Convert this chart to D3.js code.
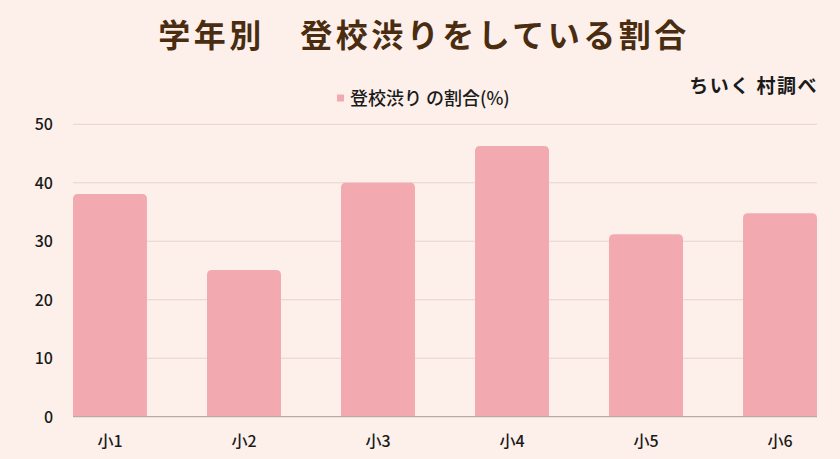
<!DOCTYPE html>
<html><head><meta charset="utf-8">
<script src="https://cdn.jsdelivr.net/npm/d3@7"></script>
<style>
html,body{margin:0;padding:0;background:#fdf0ea;}
svg{display:block;}
text{font-family:"Noto Sans CJK JP","Noto Sans",sans-serif;}
</style></head>
<body>
<svg id="chart" width="840" height="459"></svg>
<script>
const categories = ["小1","小2","小3","小4","小5","小6"];
const values = [38.1, 25.1, 40, 46.3, 31.2, 34.8];
const yTicks = [0,10,20,30,40,50];
const titleText = "学年別　登校渋りをしている割合";
const seriesName = "登校渋り の割合(%)";
const sourceText = "ちいく 村調べ";

const svg = d3.select("#chart");
const W = 840, H = 459;
svg.append("rect").attr("width",W).attr("height",H).attr("fill","#fdf0ea");

const m = {left:73, right:23, top:124, bottom:42};
const x = d3.scaleBand().domain(categories).range([m.left, W-m.right]).paddingInner(0.448).paddingOuter(0);
const y = d3.scaleLinear().domain([0,50]).range([416.7, 124.3]);

// grid
svg.append("g").selectAll("line").data(yTicks.filter(d=>d>0)).join("line")
  .attr("x1",m.left).attr("x2",W-m.right)
  .attr("y1",d=>y(d)).attr("y2",d=>y(d))
  .attr("stroke","#e6d2cd").attr("stroke-width",1);

// y axis labels
const yAxis = d3.axisLeft(y).tickValues(yTicks).tickSize(0).tickPadding(0);
const gy = svg.append("g").attr("transform",`translate(53,0)`).call(yAxis);
gy.select(".domain").remove();
gy.selectAll("text").attr("font-size",16).attr("fill","#1a1a1a").attr("dy","0.35em").attr("font-weight",500);

// bars with rounded tops
const r = 5;
svg.append("g").selectAll("path").data(values).join("path")
  .attr("fill","#f2aab0")
  .attr("d",(d,i)=>{
    const x0 = x(categories[i]), w = x.bandwidth(), y0 = y(d), yb = y(0);
    return `M${x0},${yb}V${y0+r}Q${x0},${y0} ${x0+r},${y0}H${x0+w-r}Q${x0+w},${y0} ${x0+w},${y0+r}V${yb}Z`;
  });

// baseline
svg.append("line").attr("x1",m.left).attr("x2",W-m.right)
  .attr("y1",y(0)).attr("y2",y(0)).attr("stroke","#b9aaa6").attr("stroke-width",1.2);

// x axis labels
const xAxis = d3.axisBottom(x).tickSize(0).tickPadding(0);
const gx = svg.append("g").attr("transform",`translate(0,${y(0)})`).call(xAxis);
gx.select(".domain").remove();
gx.selectAll("text").attr("font-size",16).attr("fill","#1a1a1a").attr("y",30).attr("dy",0).attr("font-weight",500);

// title
svg.append("text").attr("x",424).attr("y",47).attr("text-anchor","middle")
  .attr("font-size",32).attr("font-weight",700).attr("letter-spacing",3.5)
  .attr("fill","#4a2c10").text(titleText);

// legend
svg.append("rect").attr("x",337).attr("y",94.5).attr("width",7).attr("height",7).attr("fill","#f2aab0");
svg.append("text").attr("x",350).attr("y",105).attr("font-size",18).attr("font-weight",500)
  .attr("fill","#1a1a1a").text(seriesName);

// source
svg.append("text").attr("x",818).attr("y",93).attr("text-anchor","end")
  .attr("font-size",19).attr("font-weight",700).attr("letter-spacing",1.5)
  .attr("fill","#1a1a1a").text(sourceText);
</script>
</body></html>
